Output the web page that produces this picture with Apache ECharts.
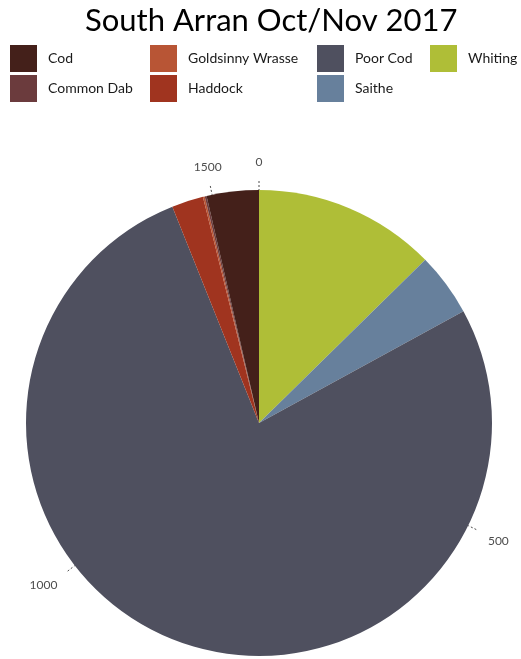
<!DOCTYPE html>
<html><head><meta charset="utf-8">
<script src="https://cdn.jsdelivr.net/npm/echarts@6/dist/echarts.min.js"></script>
<style>html,body{margin:0;padding:0;background:#fff}#c{width:521px;height:659px}</style>
</head><body><div id="c"></div>
<script>
// Stacking order, clockwise from the top
const species = ["Whiting", "Saithe", "Poor Cod", "Haddock", "Goldsinny Wrasse", "Common Dab", "Cod"];
const counts  = [196, 68, 1192, 34, 2, 2, 56];
const colors  = ["#AFBE37", "#67809C", "#4F505F", "#A0341F", "#B85535", "#6B3B3D", "#44201A"];
const angleTicks = [0, 500, 1000, 1500];
const legendColumns = [["Cod", "Common Dab"], ["Goldsinny Wrasse", "Haddock"], ["Poor Cod", "Saithe"], ["Whiting"]];
const total = counts.reduce((a, b) => a + b, 0);

const chart = echarts.init(document.getElementById('c'), null, {renderer: 'canvas'});
const font = 'Lato, "Open Sans", sans-serif';
const colX = [10, 150, 317, 430];
const legends = legendColumns.map((names, i) => ({
  data: names,
  orient: 'vertical',
  left: colX[i],
  top: 45,
  padding: 0,
  itemWidth: 27,
  itemHeight: 27,
  itemGap: 3,
  icon: 'rect',
  textStyle: {fontFamily: font, fontSize: 14, color: '#1a1a1a', padding: [0, 0, 0, 6]},
  selectedMode: false
}));

chart.setOption({
  animation: false,
  title: {
    text: 'South Arran Oct/Nov 2017',
    left: 80, top: 0,
    textStyle: {fontFamily: font, fontSize: 31, fontWeight: 'normal', color: '#000'}
  },
  legend: legends,
  polar: {center: [259, 423], radius: [0, 233]},
  angleAxis: {
    type: 'value', min: 0, max: total, startAngle: 90, clockwise: true,
    interval: 500,
    axisLine: {show: false},
    splitLine: {show: false},
    axisTick: {show: true, length: 9, lineStyle: {color: '#4d4d4d', type: [2, 2], width: 1}},
    axisLabel: {
      fontFamily: font, fontSize: 12, color: '#4d4d4d', margin: 22,
      formatter: v => angleTicks.includes(v) ? String(v) : ''
    }
  },
  radiusAxis: {
    type: 'category', data: [''],
    axisLine: {show: false}, axisTick: {show: false}, axisLabel: {show: false}, splitLine: {show: false}
  },
  series: species.map((name, i) => ({
    type: 'bar', coordinateSystem: 'polar', name: name, stack: 'all',
    data: [counts[i]], barCategoryGap: '0%',
    itemStyle: {color: colors[i]}
  })),
  color: colors
});
</script></body></html>
